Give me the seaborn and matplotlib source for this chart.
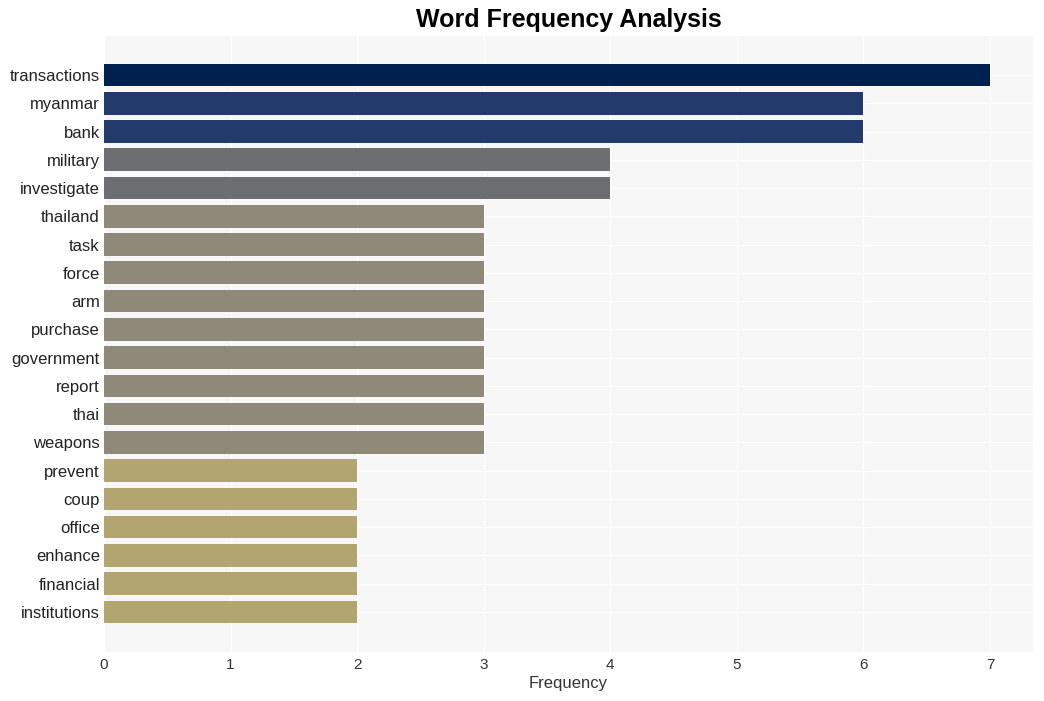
import matplotlib
matplotlib.use('Agg')
import matplotlib.pyplot as plt
import seaborn as sns
import pandas as pd

# data
words = ['transactions', 'myanmar', 'bank', 'military', 'investigate', 'thailand',
         'task', 'force', 'arm', 'purchase', 'government', 'report', 'thai',
         'weapons', 'prevent', 'coup', 'office', 'enhance', 'financial', 'institutions']
counts = [7, 6, 6, 4, 4, 3, 3, 3, 3, 3, 3, 3, 3, 3, 2, 2, 2, 2, 2, 2]

# colour per frequency level
level_colors = {7: '#00204f', 6: '#233b6c', 4: '#6d6e72', 3: '#8e8978', 2: '#b2a570'}

df = pd.DataFrame({'word': words, 'count': counts})

sns.set_theme(style='whitegrid')
plt.rcParams['font.family'] = ['Liberation Sans', 'DejaVu Sans']

fig = plt.figure(figsize=(10.44, 7.01), dpi=100)
ax = fig.add_axes([104 / 1044, 1 - 652 / 701, (1033 - 104) / 1044, (652 - 36) / 701])
ax.set_facecolor('#f7f7f7')

sns.barplot(data=df, x='count', y='word', hue='word', legend=False,
            palette=[level_colors[c] for c in counts], width=0.8, ax=ax,
            saturation=1, linewidth=0, edgecolor='none')

ax.set_xlim(0, 7.34)
ax.set_ylim(20.42, -1.38)
ax.set_xticks(range(8))
ax.grid(True, color='white', linewidth=1)
ax.set_axisbelow(True)
for s in ax.spines.values():
    s.set_visible(False)

ax.tick_params(axis='y', labelsize=12, colors='#222222', pad=3, length=0)
ax.tick_params(axis='x', labelsize=11, colors='#333333', pad=4, length=0)
ax.set_xlabel('Frequency', fontsize=12, color='#333333', labelpad=3)
ax.set_ylabel('')
fig.suptitle('Word Frequency Analysis', fontsize=18, fontweight='bold', y=0.988, x=0.545,
             color='black')

fig.savefig('out.png', dpi=100)
